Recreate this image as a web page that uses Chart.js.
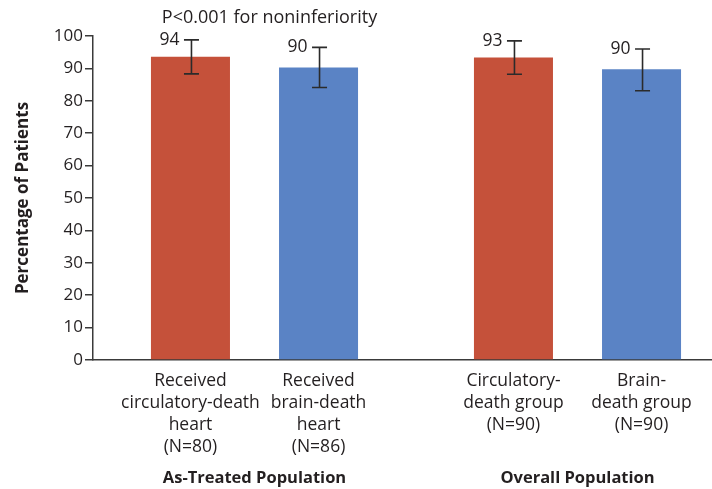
<!DOCTYPE html>
<html>
<head>
<meta charset="utf-8">
<script src="https://cdn.jsdelivr.net/npm/chart.js@4.4.1/dist/chart.umd.min.js"></script>
<style>
body{margin:0;background:#fff;}
#wrap{width:712px;height:489px;overflow:hidden;}
</style>
</head>
<body>
<div id="wrap"><canvas id="myBar" width="739" height="489"></canvas></div>
<script>
const groups = ["As-Treated Population", "Overall Population"];
const circValues = [93.6, 93.4];
const brainValues = [90.3, 89.7];
const circLow = [88.3, 88.2];
const circHigh = [98.8, 98.5];
const brainLow = [84.1, 83.1];
const brainHigh = [96.5, 96.0];
const circNames = [["Received", "circulatory-death", "heart", "(N=80)"], ["Circulatory-", "death group", "(N=90)"]];
const brainNames = [["Received", "brain-death", "heart", "(N=86)"], ["Brain-", "death group", "(N=90)"]];
const pNote = "P<0.001 for noninferiority";

const ink = "#231f20";
Chart.defaults.font.family = '"Open Sans", sans-serif';
Chart.defaults.color = ink;

// error bars, value labels and the per-bar names under the axis
const extras = {
  id: "extras",
  afterDatasetsDraw(chart) {
    const c = chart.ctx, y = chart.scales.y;
    const errs = [[circLow, circHigh], [brainLow, brainHigh]];
    const names = [circNames, brainNames];
    c.save();
    chart.data.datasets.forEach((ds, i) => {
      chart.getDatasetMeta(i).data.forEach((bar, j) => {
        const x = bar.x + 1;
        const top = y.getPixelForValue(errs[i][1][j]);
        const bot = y.getPixelForValue(errs[i][0][j]);
        c.strokeStyle = "#2b2b2b";
        c.lineWidth = 1.6;
        c.beginPath();
        c.moveTo(x, top); c.lineTo(x, bot);
        c.moveTo(x - 7.5, top); c.lineTo(x + 7.5, top);
        c.moveTo(x - 7.5, bot); c.lineTo(x + 7.5, bot);
        c.stroke();
        c.fillStyle = ink;
        c.font = '17.5px "Open Sans"';
        c.textAlign = "right";
        c.textBaseline = "middle";
        c.fillText(Math.round(ds.data[j]), x - 12, top);
        c.textAlign = "center";
        names[i][j].forEach((t, k) => c.fillText(t, bar.x, y.bottom + 21 + k * 22));
      });
    });
    c.font = '18px "Open Sans"';
    c.fillText(pNote, chart.scales.x.getPixelForValue(0) + 15, 18);
    c.restore();
  }
};

new Chart(document.getElementById("myBar"), {
  type: "bar",
  data: {
    labels: groups,
    datasets: [
      { label: "Circulatory death", data: circValues, backgroundColor: "#c5513a" },
      { label: "Brain death", data: brainValues, backgroundColor: "#5a83c5" }
    ]
  },
  options: {
    responsive: false,
    animation: false,
    categoryPercentage: 0.793,
    barPercentage: 0.617,
    layout: { padding: { top: 36, right: 0, bottom: 0, left: 0 } },
    plugins: { legend: { display: false }, tooltip: { enabled: false } },
    scales: {
      x: {
        afterFit: s => { s.height = 129; s.paddingLeft = 0; s.paddingRight = 0; },
        grid: { drawOnChartArea: false, drawTicks: false },
        border: { color: "#3a3a3a", width: 1.5 },
        ticks: { padding: 108, maxRotation: 0, font: { size: 16.5, weight: "bold" }, color: ink }
      },
      y: {
        min: 0,
        max: 100,
        afterFit: s => { s.width = 93; },
        ticks: { stepSize: 10, padding: 2, font: { size: 17 }, color: ink },
        grid: { drawOnChartArea: false, tickLength: 8, color: "#3a3a3a", lineWidth: 1.5 },
        border: { color: "#3a3a3a", width: 1.5 },
        title: { display: true, text: "Percentage of Patients", font: { size: 17, weight: "bold" }, color: ink, padding: { top: 13, bottom: 0 } }
      }
    }
  },
  plugins: [extras]
});
</script>
</body>
</html>
